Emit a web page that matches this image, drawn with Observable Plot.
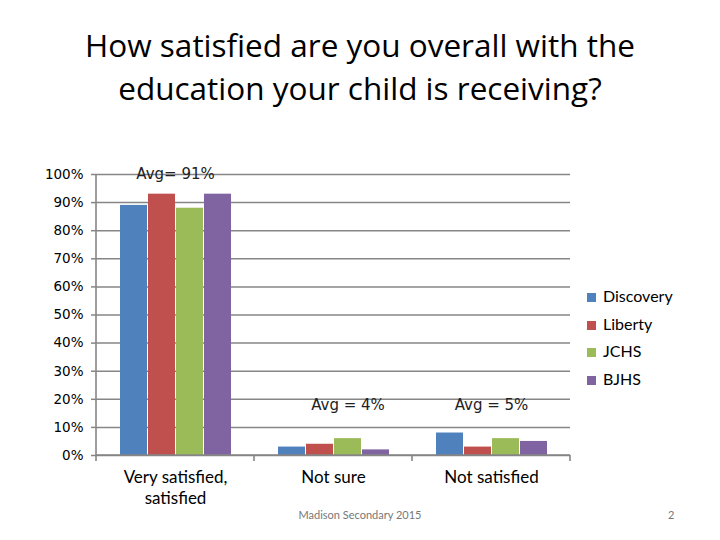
<!DOCTYPE html>
<html>
<head>
<meta charset="utf-8">
<script src="https://cdn.jsdelivr.net/npm/d3@7"></script>
<script src="https://cdn.jsdelivr.net/npm/@observablehq/plot@0.6"></script>
<style>
  html, body { margin: 0; padding: 0; background: #fff; }
  #page { position: relative; width: 720px; height: 540px; overflow: hidden; background: #fff; }
  #title { position: absolute; left: 0; top: 23px; width: 720px; text-align: center;
           font-family: "Open Sans", sans-serif; font-size: 31.5px; line-height: 43px; color: #000; }
  #chart { position: absolute; left: 0; top: 150px; }
  #legend { position: absolute; left: 587px; top: 284px; font-family: "Lato", sans-serif; font-size: 16px; color: #000; }
  .item { height: 27.7px; line-height: 24px; white-space: nowrap; }
  .sw { display: inline-block; width: 9px; height: 9px; margin-right: 7px; vertical-align: 0px; }
  #footer { position: absolute; left: 0; top: 508px; width: 720px; text-align: center;
            font-family: "Lato", sans-serif; font-size: 11px; color: #777; }
  #page-num { position: absolute; left: 668px; top: 508px; font-family: "Lato", sans-serif; font-size: 11px; color: #777; }
</style>
</head>
<body>
<div id="page">
  <div id="title">How satisfied are you overall with the<br>education your child is receiving?</div>
  <div id="chart"></div>
  <div id="legend"></div>
  <div id="footer">Madison Secondary 2015</div>
  <div id="page-num">2</div>
</div>
<script>
const groups = ["Very satisfied, satisfied", "Not sure", "Not satisfied"];
const groupLabels = ["Very satisfied,\nsatisfied", "Not sure", "Not satisfied"];
const series = ["Discovery", "Liberty", "JCHS", "BJHS"];
const colors = ["#4F81BD", "#C0504D", "#9BBB59", "#8064A2"];
const discovery = [89, 3, 8];
const liberty = [93, 4, 3];
const jchs = [88, 6, 6];
const bjhs = [93, 2, 5];
const averages = [91, 4, 5];
const avgLabels = ["Avg= 91%", "Avg = 4%", "Avg = 5%"];
const yTicks = [0, 10, 20, 30, 40, 50, 60, 70, 80, 90, 100];

const seriesValues = [discovery, liberty, jchs, bjhs];
const table = [];
groups.forEach((g, gi) => series.forEach((s, si) => table.push({group: g, series: s, value: seriesValues[si][gi]})));
const avgData = groups.map((g, i) => ({group: g, avg: averages[i], label: avgLabels[i]}));

const gridColor = "#868686";

const plot = Plot.plot({
  width: 720,
  height: 370,
  marginLeft: 96,
  marginRight: 150,
  marginTop: 24,
  marginBottom: 65,
  style: {background: "transparent", color: "#000"},
  fx: {domain: groups, padding: 0, label: null, axis: null},
  x: {domain: series, paddingInner: 0.04, paddingOuter: 0.75, axis: null},
  y: {domain: [0, 100], axis: null},
  color: {domain: series, range: colors},
  marks: [
    Plot.gridY(yTicks, {stroke: gridColor, strokeOpacity: 1, strokeWidth: 1.5}),
    Plot.axisY(yTicks, {tickSize: 5, tickPadding: 8, stroke: gridColor, strokeWidth: 1.5,
      tickFormat: d => d + "%", label: null, fontFamily: "DejaVu Sans", fontSize: 13.5, fill: "#000"}),
    Plot.barY(table, {fx: "group", x: "series", y: "value", fill: "series"}),
    Plot.axisFx({anchor: "bottom", tickSize: 0, tickPadding: 12, label: null, tickFormat: d => groupLabels[groups.indexOf(d)],
      fontFamily: "Lato", fontSize: 17, lineHeight: 1.25, fill: "#000"}),
    Plot.text(avgData.filter((d, i) => i !== 1), {fx: "group", y: d => d.avg > 50 ? 100 : 18, text: "label",
      fontFamily: "DejaVu Sans", fontSize: 15, fill: "#222"}),
    Plot.text(avgData.filter((d, i) => i === 1), {fx: "group", x: () => "JCHS", y: () => 18, text: "label",
      fontFamily: "DejaVu Sans", fontSize: 15, fill: "#222"})
  ]
});

// axis lines derived from the plot's own scales
const fx = plot.scale("fx");
const ys = plot.scale("y");
const y0 = ys.apply(0), y100 = ys.apply(100);
const left = fx.apply(groups[0]);
const right = fx.apply(groups[groups.length - 1]) + fx.bandwidth;
const g = d3.select(plot).append("g").attr("stroke", gridColor).attr("stroke-width", 1.6);
g.append("line").attr("x1", left).attr("x2", left).attr("y1", y0).attr("y2", y100);
g.append("line").attr("x1", left).attr("x2", right).attr("y1", y0).attr("y2", y0);
const bounds = groups.map(d => fx.apply(d)).concat([right]);
bounds.forEach(b => g.append("line").attr("x1", b).attr("x2", b).attr("y1", y0).attr("y2", y0 + 6));

document.getElementById("chart").appendChild(plot);

const legend = document.getElementById("legend");
series.forEach((s, i) => {
  const div = document.createElement("div");
  div.className = "item";
  div.innerHTML = `<span class="sw" style="background:${colors[i]}"></span>${s}`;
  legend.appendChild(div);
});
</script>
</body>
</html>
